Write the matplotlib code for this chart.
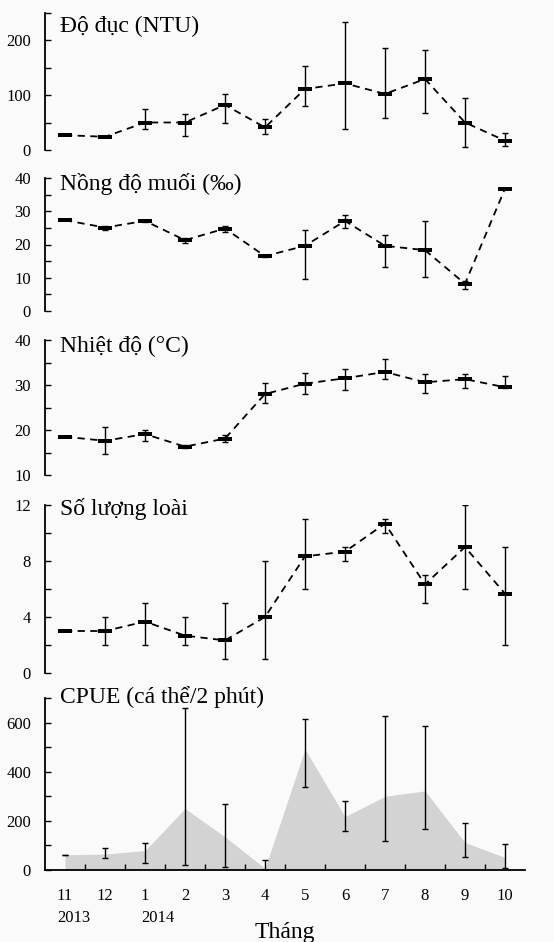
import matplotlib
matplotlib.use('Agg')
import matplotlib.pyplot as plt
import numpy as np
from matplotlib.ticker import MultipleLocator, FixedLocator

plt.rcParams['font.family'] = ['Liberation Serif', 'DejaVu Serif']

months = ['11', '12', '1', '2', '3', '4', '5', '6', '7', '8', '9', '10']
years = ['2013', '2014']
year_idx = [0, 2]

turbidity = [27, 24, 50, 50, 82, 41, 111, 121, 102, 129, 50, 17]
turbidity_lo = [27, 24, 39, 25, 50, 30, 80, 39, 59, 67, 6, 7]
turbidity_hi = [27, 24, 74, 65, 102, 56, 153, 233, 185, 182, 95, 31]

salinity = [27.3, 25.1, 27.1, 21.3, 24.8, 16.5, 19.6, 27.1, 19.6, 18.3, 8.2, 36.8]
salinity_lo = [27.3, 24.3, 26.7, 20.5, 23.8, 16.1, 9.7, 25.0, 13.3, 10.1, 6.5, 36.8]
salinity_hi = [27.3, 25.6, 27.5, 21.9, 25.5, 16.9, 24.5, 28.9, 23.0, 27.2, 9.1, 36.8]

temperature = [18.5, 17.6, 19.1, 16.3, 18.1, 28.0, 30.3, 31.5, 32.9, 30.6, 31.3, 29.5]
temperature_lo = [18.5, 14.7, 17.6, 16.0, 17.3, 26.1, 27.9, 28.8, 31.3, 28.3, 29.3, 29.3]
temperature_hi = [18.5, 20.6, 20.1, 16.6, 19.0, 30.4, 32.6, 33.6, 35.7, 32.4, 32.4, 31.9]

species = [3.0, 3.0, 3.67, 2.67, 2.33, 4.0, 8.33, 8.67, 10.67, 6.33, 9.0, 5.67]
species_lo = [3, 2, 2, 2, 1, 1, 6, 8, 10, 5, 6, 2]
species_hi = [3, 4, 5, 4, 5, 8, 11, 9, 11, 7, 12, 9]

cpue = [62, 65, 79, 250, 135, 7, 492, 217, 300, 322, 112, 51]
cpue_lo = [62, 47, 27, 20, 14, 0, 339, 158, 118, 167, 54, 9]
cpue_hi = [62, 88, 111, 660, 268, 41, 616, 282, 626, 585, 192, 104]

titles = ['Độ đục (NTU)', 'Nồng độ muối (‰)', 'Nhiệt độ (°C)',
          'Số lượng loài', 'CPUE (cá thể/2 phút)']

W, H = 554, 942
bg = '#fafafa'
fig = plt.figure(figsize=(W / 100, H / 100), dpi=100, facecolor=bg)

x = np.arange(len(months))
left, right = 45, 525

# (top px, bottom px, ylim, major, minor, title baseline px)
panels = [
    (12.5, 150, (0, 250), 100, 50, 32),
    (178, 311, (0, 40), 10, 5, 190),
    (340, 475, (10, 40), 10, 5, 352),
    (505, 673, (0, 12), 4, 2, 515),
    (698, 870, (0, 700), 200, 100, 703),
]
series = [
    (turbidity, turbidity_lo, turbidity_hi),
    (salinity, salinity_lo, salinity_hi),
    (temperature, temperature_lo, temperature_hi),
    (species, species_lo, species_hi),
    (cpue, cpue_lo, cpue_hi),
]

bar_marker = [(-3.5, -1), (3.5, -1), (3.5, 1), (-3.5, 1), (-3.5, -1)]

for i, (top, bot, ylim, major, minor, tb) in enumerate(panels):
    ax = fig.add_axes([left / W, 1 - bot / H, (right - left) / W, (bot - top) / H])
    ax.set_facecolor(bg)
    mean, lo, hi = [np.array(s, dtype=float) for s in series[i]]
    yerr = [np.maximum(mean - lo, 0), np.maximum(hi - mean, 0)]
    if i < 4:
        ax.plot(x, mean, color='black', lw=1.3, ls=(0, (4, 3)), zorder=2)
        ax.errorbar(x, mean, yerr=yerr, fmt='none', ecolor='black',
                    elinewidth=1, capsize=2.5, capthick=1, zorder=3)
        ax.plot(x, mean, ls='none', marker=bar_marker, markersize=10,
                color='black', mec='black', mew=0, zorder=4)
    else:
        ax.fill_between(x, 0, mean, color='#d3d3d3', lw=0, zorder=1)
        ax.errorbar(x, mean, yerr=yerr, fmt='none', ecolor='black',
                    elinewidth=1, capsize=2.5, capthick=1, zorder=3)
    ax.set_xlim(-0.5, 11.5)
    ax.set_ylim(*ylim)
    for s in ['top', 'right']:
        ax.spines[s].set_visible(False)
    ax.spines['left'].set_linewidth(1.3)
    ax.yaxis.set_major_locator(MultipleLocator(major))
    ax.yaxis.set_minor_locator(MultipleLocator(minor))
    ax.tick_params(axis='y', which='both', direction='in', length=4,
                   width=1, labelsize=12, pad=10)
    if i < 4:
        ax.spines['bottom'].set_visible(False)
        ax.set_xticks([])
    else:
        ax.spines['bottom'].set_linewidth(1.3)
        ax.set_xticks(x)
        ax.set_xticklabels(months)
        ax.xaxis.set_minor_locator(FixedLocator(np.arange(0.5, 11, 1)))
        ax.tick_params(axis='x', which='major', length=0, labelsize=12, pad=13)
        ax.tick_params(axis='x', which='minor', direction='in', length=4, width=1)
        for yr, k in zip(years, year_idx):
            ax.text(k - 0.2 + 0.1 * (k > 0), -0.3, yr, transform=ax.get_xaxis_transform(),
                    ha='left', va='baseline', fontsize=12)
    fig.text(60 / W, 1 - tb / H, titles[i], fontsize=17, ha='left', va='baseline')

fig.text(285 / W, 1 - 938 / H, 'Tháng', fontsize=17, ha='center', va='baseline')

fig.savefig('out.png', dpi=100, facecolor=bg)
